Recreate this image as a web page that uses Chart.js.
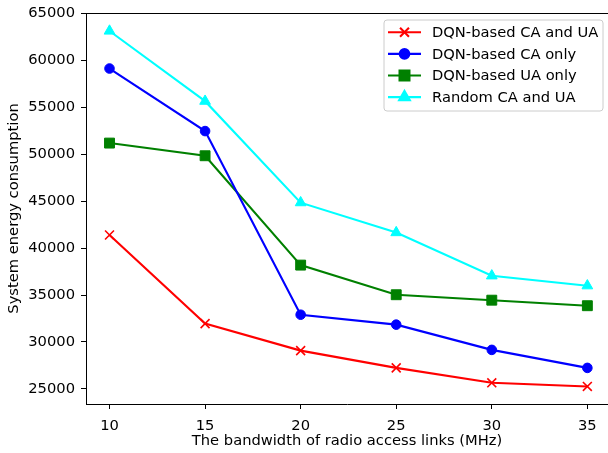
<!DOCTYPE html>
<html>
<head>
<meta charset="utf-8">
<script src="https://cdn.jsdelivr.net/npm/chart.js@4"></script>
<style>
html,body{margin:0;padding:0;background:#fff;}
#wrap{width:608px;height:453px;}
</style>
</head>
<body>
<div id="wrap"><canvas id="c" width="608" height="453"></canvas></div>
<script>
const bandwidth = [10, 15, 20, 25, 30, 35];
const seriesNames = ["DQN-based CA and UA", "DQN-based CA only", "DQN-based UA only", "Random CA and UA"];
const dqnCaUa   = [41400, 31950, 29070, 27230, 25640, 25250];
const dqnCaOnly = [59150, 52480, 32900, 31840, 29150, 27230];
const dqnUaOnly = [51200, 49850, 38190, 35030, 34450, 33860];
const randomCaUa = [63150, 55670, 44850, 41660, 37050, 35990];
const yTicks = [25000, 30000, 35000, 40000, 45000, 50000, 55000, 60000, 65000];

const FONT = "'DejaVu Sans', sans-serif";
const FS = 14.7;

function pts(arr){ return bandwidth.map((x,i)=>({x:x, y:arr[i]})); }

const styles = [
  {color:'#ff0000', pointStyle:'crossRot', radius:6.3, bw:1.6},
  {color:'#0000ff', pointStyle:'circle', radius:4.8, bw:1},
  {color:'#008000', pointStyle:'rect', radius:7.0, bw:1},
  {color:'#00ffff', pointStyle:'triangle', radius:6.2, bw:1}
];
const allData = [dqnCaUa, dqnCaOnly, dqnUaOnly, randomCaUa];

const datasets = allData.map((d,i)=>({
  label: seriesNames[i],
  data: pts(d),
  borderColor: styles[i].color,
  backgroundColor: styles[i].color,
  borderWidth: 2.1,
  pointStyle: styles[i].pointStyle,
  pointRadius: styles[i].radius,
  pointHoverRadius: styles[i].radius,
  pointBorderWidth: styles[i].bw,
  pointBackgroundColor: styles[i].color,
  pointBorderColor: styles[i].color,
  tension: 0
}));

const framePlugin = {
  id: 'frame',
  afterDraw(chart){
    const ctx = chart.ctx;
    const a = chart.chartArea;
    ctx.save();
    ctx.strokeStyle = '#000';
    ctx.lineWidth = 1;
    ctx.beginPath();
    ctx.moveTo(a.left, a.top + 0.5);
    ctx.lineTo(a.right, a.top + 0.5);
    ctx.stroke();

    // legend box
    const bx = 384, by = 20, bw = 219, bh = 91, r = 3;
    ctx.globalAlpha = 0.8;
    ctx.fillStyle = '#fff';
    ctx.beginPath();
    ctx.moveTo(bx + r, by);
    ctx.arcTo(bx + bw, by, bx + bw, by + bh, r);
    ctx.arcTo(bx + bw, by + bh, bx, by + bh, r);
    ctx.arcTo(bx, by + bh, bx, by, r);
    ctx.arcTo(bx, by, bx + bw, by, r);
    ctx.closePath();
    ctx.fill();
    ctx.globalAlpha = 1;
    ctx.strokeStyle = '#cccccc';
    ctx.lineWidth = 1;
    ctx.stroke();

    const rows = [32.3, 53.9, 75.5, 97.1];
    ctx.font = FS + 'px ' + FONT;
    ctx.textBaseline = 'middle';
    ctx.textAlign = 'left';
    for (let i = 0; i < 4; i++) {
      const y = rows[i];
      const s = styles[i];
      ctx.strokeStyle = s.color;
      ctx.lineWidth = 2.1;
      ctx.beginPath();
      ctx.moveTo(388, y);
      ctx.lineTo(421, y);
      ctx.stroke();
      ctx.fillStyle = s.color;
      if (Chart.helpers && Chart.helpers.drawPoint) {
        Chart.helpers.drawPoint(ctx, {pointStyle: s.pointStyle, radius: s.radius, borderWidth: s.bw, rotation: 0}, 404.5, y);
      }
      ctx.fillStyle = '#000';
      ctx.fillText(seriesNames[i], 432, y + 1);
    }
    ctx.restore();
  }
};

new Chart(document.getElementById('c'), {
  type: 'line',
  data: { datasets },
  options: {
    responsive: false,
    animation: false,
    devicePixelRatio: 1,
    layout: { autoPadding: false, padding: { top: 13, left: 0, right: 0, bottom: 0 } },
    plugins: { legend: { display: false }, tooltip: { enabled: false } },
    scales: {
      x: {
        type: 'linear',
        min: 8.77,
        max: 36.08,
        afterBuildTicks(s){ s.ticks = bandwidth.map(v=>({value:v})); },
        afterFit(s){ s.height = 49; s.paddingRight = 0; s.paddingLeft = 0; },
        grid: { display: true, drawOnChartArea: false, drawTicks: true, tickLength: 5, color: '#000', tickWidth: 1 },
        border: { display: true, color: '#000', width: 1 },
        ticks: { color: '#000', font: { family: FONT, size: FS }, padding: 8, maxRotation: 0, autoSkip: false },
        title: { display: true, text: 'The bandwidth of radio access links (MHz)', color: '#000', font: { family: FONT, size: FS }, padding: { top: 1, bottom: 3 } }
      },
      y: {
        type: 'linear',
        min: 23380,
        max: 65070,
        afterBuildTicks(s){ s.ticks = yTicks.map(v=>({value:v})); },
        afterFit(s){ s.width = 86; s.paddingTop = 0; s.paddingBottom = 0; },
        grid: { display: true, drawOnChartArea: false, drawTicks: true, tickLength: 5, color: '#000', tickWidth: 1 },
        border: { display: true, color: '#000', width: 1 },
        ticks: { color: '#000', font: { family: FONT, size: FS }, padding: 6, autoSkip: false, callback: v => String(v) },
        title: { display: true, text: 'System energy consumption', color: '#000', font: { family: FONT, size: FS }, padding: { top: 5, bottom: 0 } }
      }
    }
  },
  plugins: [framePlugin]
});
</script>
</body>
</html>
